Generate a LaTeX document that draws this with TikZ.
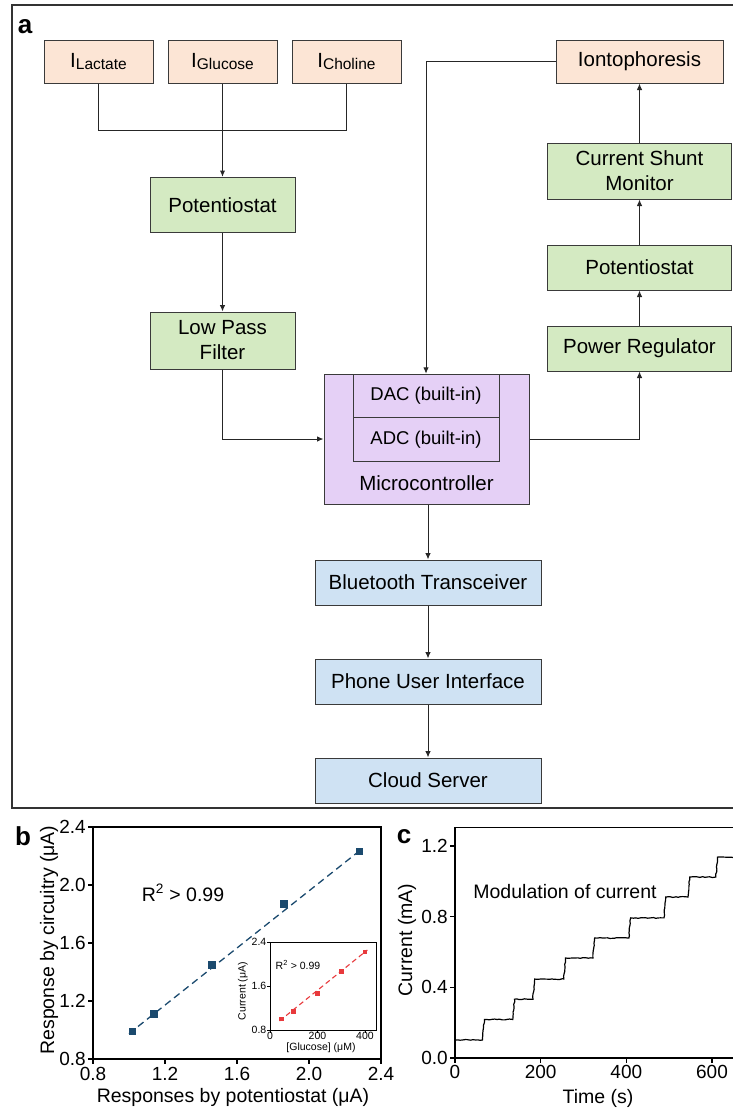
\documentclass[tikz,border=0pt]{standalone}
\usepackage{fontspec}
\setmainfont{Liberation Sans}
\usetikzlibrary{arrows.meta,calc,decorations.pathmorphing}
\definecolor{cpeach}{HTML}{FCE5D5}
\definecolor{cleaf}{HTML}{D4EAC2}
\definecolor{clilac}{HTML}{E5D0F6}
\definecolor{csky}{HTML}{CFE2F3}
\definecolor{boxline}{HTML}{3A3A3A}
\definecolor{cnavy}{HTML}{1B4A6E}
\definecolor{cred}{HTML}{E8393C}
\newcommand\isub[1]{I\raisebox{-2.5pt}{\fontsize{15.5}{16}\selectfont #1}}
\begin{document}
\begin{tikzpicture}[x=1pt,y=-1pt,node distance=124pt,>={Latex[length=6.5pt,width=5.5pt]},font=\fontsize{20.5}{25}\selectfont]
\tikzstyle{blk}=[rectangle,draw=boxline,line width=1pt,inner sep=2pt,align=center]
\tikzstyle{sens}=[blk,fill=cpeach,minimum width=109pt,minimum height=43pt]
\tikzstyle{grn}=[blk,fill=cleaf,minimum width=145pt,minimum height=55pt]
\tikzstyle{rgrn}=[blk,fill=cleaf,minimum width=184pt,minimum height=45pt]
\tikzstyle{sky}=[blk,fill=csky,minimum width=226pt,minimum height=45pt]
\tikzstyle{wire}=[line width=1pt,draw=black!85]
\tikzstyle{lbl}=[font=\fontsize{26}{26}\selectfont\bfseries,inner sep=0pt]
\tikzstyle{axln}=[line width=1.1pt,draw=black]
\tikzstyle{tnum}=[font=\fontsize{19}{19}\selectfont,inner sep=0pt]
\tikzstyle{snum}=[font=\fontsize{10.5}{11}\selectfont,inner sep=0pt]
\useasboundingbox (0,0) rectangle (732,1111);
\draw[line width=1.5pt,draw=black!80] (12,5) rectangle (745,808);
\node[lbl] (pa) at (25,27) {a};
\node[sens] (lac) at (98.5,61.5) {\isub{Lactate}};
\node[sens,right of=lac] (glu) {\isub{Glucose}};
\node[sens,right of=glu] (cho) {\isub{Choline}};
\node[grn,below of=glu,yshift=-19.5pt] (pst) {Potentiostat};
\node[grn,below of=pst,yshift=-11.5pt,minimum height=57pt] (lpf) {Low Pass\\Filter};
\node[blk,fill=clilac,minimum width=205pt,minimum height=130pt] (mcu) at (426.5,439) {};
\node[blk,fill=clilac,minimum width=146pt,minimum height=43.5pt,font=\fontsize{18.5}{22}\selectfont] (dac) at (426,396) {DAC (built-in)};
\node[blk,fill=clilac,minimum width=146pt,minimum height=43.5pt,font=\fontsize{18.5}{22}\selectfont] (adc) at (426,439.5) {ADC (built-in)};
\node (mcut) at (426.5,483) {Microcontroller};
\node[sens,minimum width=167pt] (ion) at (639.5,61.5) {Iontophoresis};
\node[rgrn,minimum height=56pt,below of=ion,yshift=14.5pt] (csm) {Current Shunt\\Monitor};
\node[rgrn,below of=csm,yshift=27.5pt] (pt2) {Potentiostat};
\node[rgrn,below of=pt2,yshift=43pt] (prg) {Power Regulator};
\node[sky,below of=mcu,xshift=1.5pt,yshift=-19.5pt] (ble) {Bluetooth Transceiver};
\node[sky,below of=ble,yshift=25pt] (pui) {Phone User Interface};
\node[sky,below of=pui,yshift=25pt] (cld) {Cloud Server};
\coordinate (jn) at ($(glu.south)!0.5!(pst.north)$);
\draw[wire] (lac.south) |- (jn) -| (cho.south);
\draw[wire,->,line width=1.4pt] (glu.south) -- (pst.north);
\draw[wire,->] (pst) -- (lpf);
\draw[wire,->] (lpf.south) |- (mcu.west);
\draw[wire,->] (ion.west) -| (dac.north);
\draw[wire,->] (mcu.east) -| (prg.south);
\draw[wire,->] (prg) -- (pt2);
\draw[wire,->] (pt2) -- (csm);
\draw[wire,->] (csm) -- (ion);
\draw[wire,->] (ble.north |- mcu.south) -- (ble.north);
\draw[wire,->] (ble) -- (pui);
\draw[wire,->] (pui) -- (cld);
\node[lbl] (pb) at (23,836) {b};
\begin{scope}[shift={(-51,1175)},x=180pt,y=145pt]
\draw[axln] (0.8,0.8) rectangle (2.4,2.4);
\foreach \v [count=\k] in {0.8,1.2,1.6,2.0,2.4}{
  \draw[axln] (\v,0.8) -- ++(0pt,-5pt);
  \draw[axln] (0.8,\v) -- ++(-5pt,0pt);
  \node[tnum] (bx\k) at ($(\v,0.8)+(0pt,-15pt)$) {\v};
  \node[tnum,anchor=east] (by\k) at ($(0.8,\v)+(-7pt,0pt)$) {\v};
}
\draw[cnavy,line width=1.3pt,dash pattern=on 7pt off 4.5pt] (1.0,0.975) -- (2.29,2.245);
\foreach \a/\b in {1.02/0.99,1.14/1.11,1.46/1.45,1.86/1.87,2.28/2.23}
  \fill[cnavy] (\a,\b) ++(-3.75pt,-3.75pt) rectangle ++(7.5pt,7.5pt);
\end{scope}
\node[font=\fontsize{19.5}{20}\selectfont] (brsq) at (183,893) {R\textsuperscript{2} > 0.99};
\node[font=\fontsize{19.5}{20}\selectfont,rotate=90] (bylab) at (49,940) {Response by circuitry (μA)};
\node[font=\fontsize{19.5}{20}\selectfont] (bxlab) at (233,1097) {Responses by potentiostat (μA)};
\begin{scope}[shift={(270,1074)},x=0.2375pt,y=55pt]
\fill[white] (0,0.8) rectangle (450,2.4);
\draw[line width=1pt] (0,0.8) rectangle (450,2.4);
\foreach \v [count=\k] in {0.8,1.6,2.4}{
  \draw[line width=0.8pt] (0,\v) -- ++(-3pt,0pt);
  \node[snum,anchor=east] (iy\k) at ($(0,\v)+(-3.5pt,0pt)$) {\v};
}
\foreach \t [count=\k] in {0,200,400}{
  \draw[line width=0.8pt] (\t,0.8) -- ++(0pt,-2.5pt);
  \node[snum,anchor=north] (ix\k) at ($(\t,0.8)+(0pt,-1.5pt)$) {\t};
}
\draw[cred,line width=1.1pt,dash pattern=on 5pt off 3.5pt] (40,0.965) -- (410,2.255);
\foreach \a/\b in {50/1.0,100/1.13,200/1.47,300/1.87,400/2.22}
  \fill[cred] (\a,\b) ++(-2.4pt,-2.4pt) rectangle ++(4.8pt,4.8pt);
\end{scope}
\node[font=\fontsize{10.5}{11}\selectfont] (irsq) at (298,965) {R\textsuperscript{2} > 0.99};
\node[snum,rotate=90] (iylab) at (243,991) {Current (μA)};
\node[snum] (ixlab) at (321,1048) {[Glucose] (μM)};
\node[lbl] (pc) at (404,837) {c};
\begin{scope}[shift={(455,1058)},x=0.4283pt,y=176.7pt]
\draw[axln] (700,1.302) -- (0,1.302) -- (0,0) -- (700,0);
\foreach \t [count=\k] in {0,200,400,600}{
  \draw[axln] (\t,0) -- ++(0pt,-5pt);
  \node[tnum] (cx\k) at ($(\t,0)+(0pt,-14pt)$) {\t};
}
\foreach \v [count=\k] in {0.0,0.4,0.8,1.2}{
  \draw[axln] (0,\v) -- ++(-5pt,0pt);
  \node[tnum,anchor=east] (cy\k) at ($(0,\v)+(-7pt,0pt)$) {\v};
}
\pgfmathsetseed{7}
\draw[line width=1.2pt,decorate,decoration={random steps,segment length=2.5pt,amplitude=0.45pt}]
  (0,0.102) -- (64,0.102) -- (69,0.218) -- (135,0.218) -- (139,0.333) -- (182,0.333)
  -- (186,0.447) -- (254,0.447) -- (258,0.566) -- (322,0.566) -- (326,0.679) -- (406,0.679)
  -- (410,0.793) -- (488,0.793) -- (492,0.911) -- (544,0.911) -- (548,1.024) -- (609,1.024)
  -- (613,1.137) -- (690,1.137);
\end{scope}
\node[font=\fontsize{19.5}{20}\selectfont] (cmod) at (565,892) {Modulation of current};
\node[font=\fontsize{19.5}{20}\selectfont,rotate=90] (cylab) at (407,940) {Current (mA)};
\node[font=\fontsize{19.5}{20}\selectfont] (cxlab) at (598,1098) {Time (s)};
\end{tikzpicture}
\end{document}
